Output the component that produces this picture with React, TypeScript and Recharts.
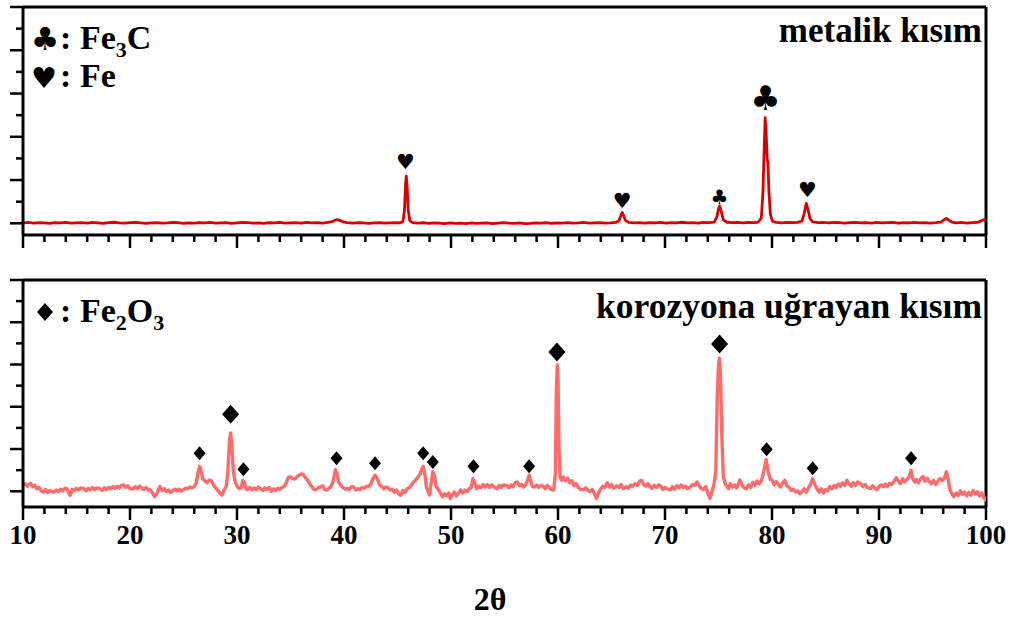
import React from "react";
import { ComposedChart, Line, Scatter, XAxis, YAxis, ReferenceLine } from "recharts";

// 2θ / intensity pairs (a.u., 1000 = one major tick)
const metallicPattern: [number, number][] = [
  [10, 10], [10.5, 20], [11, 5], [11.5, 15], [12, 10], [12.5, 0], [13, 15], [13.5, 10], [14, 20], [14.5, 5],
  [15, 10], [15.5, 15], [16, 5], [16.5, 20], [17, 10], [17.5, 0], [18, 15], [18.5, 25], [19, 10], [19.5, 5],
  [20, 15], [20.5, 20], [21, 10], [21.5, 0], [22, 10], [22.5, 15], [23, 5], [23.5, 10], [24, 20], [24.5, 15],
  [25, 0], [25.5, 10], [26, 5], [26.5, 15], [27, 10], [27.5, 20], [28, 5], [28.5, 10], [29, 15], [29.5, 0],
  [30, 10], [30.5, 20], [31, 15], [31.5, 5], [32, 10], [32.5, 0], [33, 15], [33.5, 10], [34, 20], [34.5, 5],
  [35, 10], [35.5, 15], [36, 5], [36.5, 20], [37, 10], [37.5, 15], [38, 5], [38.5, 20], [38.9, 40], [39.2, 75],
  [39.4, 85], [39.6, 70], [39.9, 35], [40.3, 15], [40.8, 5], [41.3, 15], [41.8, 10], [42.3, 0], [42.8, 10],
  [43.3, 15], [43.8, 5], [44.3, 10], [44.8, 15], [45.2, 10], [45.5, 40], [45.65, 300], [45.75, 900],
  [45.82, 1090], [45.9, 850], [46.0, 300], [46.15, 60], [46.4, 15], [46.9, 5], [47.4, 15], [47.9, 0],
  [48.4, 10], [48.9, 5], [49.4, -5], [49.9, 10], [50.4, 0], [50.9, 5], [51.4, -5], [51.9, 10], [52.4, 0],
  [52.9, 5], [53.4, 10], [53.9, -5], [54.4, 5], [54.9, 15], [55.4, 5], [55.9, 0], [56.4, 10], [56.9, -5],
  [57.4, 0], [57.9, 10], [58.4, 5], [58.9, 15], [59.4, 0], [59.9, 10], [60.4, 5], [60.9, 15], [61.4, 5],
  [61.9, 10], [62.4, 20], [62.9, 5], [63.4, 10], [63.9, 15], [64.4, 5], [64.9, 10], [65.4, 20], [65.7, 60],
  [65.85, 160], [66.0, 250], [66.15, 170], [66.3, 70], [66.6, 20], [67.1, 10], [67.6, 15], [68.1, 5],
  [68.6, 15], [69.1, 10], [69.6, 20], [70.1, 5], [70.6, 15], [71.1, 10], [71.6, 25], [72.1, 10], [72.6, 15],
  [73.1, 5], [73.6, 20], [74.1, 15], [74.6, 30], [74.85, 150], [75.0, 330], [75.1, 400], [75.25, 280],
  [75.45, 80], [75.8, 25], [76.3, 15], [76.8, 20], [77.3, 10], [77.8, 20], [78.3, 15], [78.7, 25],
  [79.0, 120], [79.15, 700], [79.28, 1800], [79.36, 2440], [79.45, 2100], [79.55, 1500], [79.62, 1390],
  [79.72, 700], [79.85, 200], [80.05, 45], [80.4, 20], [80.9, 10], [81.4, 20], [81.9, 15], [82.4, 20],
  [82.8, 50], [83.0, 220], [83.2, 460], [83.35, 330], [83.55, 110], [83.8, 35], [84.3, 15], [84.8, 20],
  [85.3, 10], [85.8, 20], [86.3, 15], [86.8, 5], [87.3, 15], [87.8, 20], [88.3, 10], [88.8, 15], [89.3, 5],
  [89.8, 20], [90.3, 10], [90.8, 15], [91.3, 20], [91.8, 5], [92.3, 15], [92.8, 10], [93.3, 20], [93.8, 10],
  [94.3, 15], [94.8, 5], [95.3, 15], [95.8, 30], [96.1, 85], [96.3, 115], [96.5, 75], [96.8, 30], [97.2, 10],
  [97.7, 20], [98.2, 5], [98.7, 15], [99.2, 20], [99.5, 50], [99.7, 80], [99.85, 75], [100, 55],
];

const corrodedPattern: [number, number][] = [
  [10.0, 140], [10.2, 180], [10.4, 120], [10.7, 190], [10.9, 110], [11.1, 140], [11.3, 60], [11.5, 90],
  [11.7, 10], [11.9, -20], [12.1, 40], [12.3, -30], [12.5, 20], [12.7, -10], [12.9, -20], [13.1, 30],
  [13.3, -10], [13.5, 50], [13.7, 10], [13.9, 70], [14.1, 60], [14.3, -40], [14.4, -95], [14.6, 40],
  [14.8, 20], [15.0, 70], [15.2, 30], [15.4, 80], [15.7, 60], [15.9, 10], [16.1, 70], [16.3, 30], [16.5, 90],
  [16.7, 40], [16.9, 80], [17.2, 60], [17.4, 20], [17.6, 80], [17.8, 40], [18.0, 90], [18.2, 60], [18.4, 110],
  [18.6, 70], [18.8, 120], [19.0, 80], [19.2, 140], [19.4, 150], [19.6, 90], [19.8, 130], [20.0, 60],
  [20.3, 60], [20.5, 110], [20.7, 60], [20.9, 120], [21.1, 80], [21.3, 40], [21.5, 90], [21.7, 30],
  [21.9, 30], [22.1, -40], [22.3, -130], [22.5, -60], [22.7, 60], [22.8, 110], [23.0, 20], [23.2, 60],
  [23.4, -10], [23.6, 30], [23.8, -30], [24.0, 20], [24.2, 50], [24.4, 10], [24.6, 50], [24.8, 0], [25.0, 40],
  [25.2, 70], [25.4, 60], [25.6, 100], [25.8, 80], [26.0, 110], [26.2, 200], [26.35, 420], [26.5, 590],
  [26.65, 480], [26.8, 290], [27.0, 250], [27.2, 200], [27.4, 270], [27.6, 250], [27.8, 150], [28.0, 80],
  [28.2, 20], [28.4, -40], [28.6, -90], [28.8, 30], [29.0, 120], [29.15, 500], [29.3, 1200], [29.4, 1380],
  [29.5, 1150], [29.65, 500], [29.8, 250], [30.0, 120], [30.2, 60], [30.4, 90], [30.55, 260], [30.7, 200],
  [30.85, 50], [31.0, 40], [31.2, 90], [31.4, 30], [31.6, 80], [31.8, 40], [32.0, 100], [32.2, 60],
  [32.4, 20], [32.6, 80], [32.8, 40], [33.0, 90], [33.2, 0], [33.4, 60], [33.6, 20], [33.8, 70], [34.0, 40],
  [34.2, 90], [34.4, 110], [34.6, 200], [34.8, 330], [35.0, 340], [35.2, 300], [35.4, 290], [35.6, 340],
  [35.8, 380], [36.0, 410], [36.2, 400], [36.4, 320], [36.6, 260], [36.8, 180], [37.0, 110], [37.2, 40],
  [37.4, 40], [37.6, 90], [37.8, 100], [38.0, 130], [38.2, 40], [38.4, 30], [38.6, 70], [38.8, 120],
  [39.0, 250], [39.2, 510], [39.35, 420], [39.5, 220], [39.7, 140], [39.9, 90], [40.1, 50], [40.3, 70],
  [40.5, 40], [40.7, 110], [40.9, 100], [41.1, 30], [41.3, 60], [41.5, 40], [41.7, 90], [41.9, 70],
  [42.1, 120], [42.3, 110], [42.5, 170], [42.7, 300], [42.9, 380], [43.1, 300], [43.3, 160], [43.5, 120],
  [43.7, 60], [43.9, 100], [44.1, 90], [44.3, 30], [44.5, 50], [44.7, -20], [44.9, 30], [45.1, -60],
  [45.3, -95], [45.5, 20], [45.7, -30], [45.9, 60], [46.1, 80], [46.3, 150], [46.5, 220], [46.7, 270],
  [46.9, 330], [47.1, 400], [47.25, 520], [47.4, 590], [47.55, 420], [47.7, 100], [47.85, 10], [48.0, -90],
  [48.15, 200], [48.3, 460], [48.45, 380], [48.6, 120], [48.8, 50], [49.0, -40], [49.2, -130], [49.4, -60],
  [49.6, -110], [49.8, -40], [49.95, -175], [50.1, -90], [50.3, -20], [50.5, -110], [50.7, -50], [50.9, 30],
  [51.1, -40], [51.3, 30], [51.5, -10], [51.7, 60], [51.9, 90], [52.05, 300], [52.2, 210], [52.4, 60],
  [52.6, 120], [52.8, 80], [53.0, 160], [53.2, 100], [53.4, 160], [53.6, 90], [53.8, 150], [54.0, 110],
  [54.3, 60], [54.5, 140], [54.7, 90], [54.9, 150], [55.2, 140], [55.4, 80], [55.6, 150], [55.8, 110],
  [56.0, 200], [56.2, 220], [56.4, 130], [56.6, 160], [56.8, 100], [57.0, 170], [57.15, 260], [57.3, 380],
  [57.45, 250], [57.6, 120], [57.8, 100], [58.0, 150], [58.2, 90], [58.4, 140], [58.6, 120], [58.8, 60],
  [59.0, 140], [59.2, 80], [59.4, 40], [59.6, 30], [59.75, 400], [59.85, 2400], [59.93, 2990], [60.0, 2600],
  [60.1, 900], [60.2, 330], [60.35, 260], [60.5, 340], [60.7, 250], [60.9, 310], [61.1, 200], [61.3, 250],
  [61.5, 130], [61.7, 180], [61.9, 90], [62.1, 40], [62.4, 40], [62.6, 80], [62.8, 20], [63.0, -10],
  [63.2, 40], [63.4, -60], [63.6, -170], [63.8, -30], [64.0, 60], [64.2, 120], [64.4, 90], [64.6, 200],
  [64.8, 100], [65.0, 160], [65.2, 70], [65.5, 130], [65.7, 90], [65.9, 160], [66.1, 60], [66.4, 110],
  [66.6, 70], [66.8, 150], [67.0, 120], [67.2, 180], [67.4, 140], [67.6, 230], [67.8, 260], [68.0, 160],
  [68.2, 120], [68.4, 180], [68.6, 110], [68.8, 70], [69.0, 140], [69.2, 90], [69.4, 150], [69.6, 130],
  [69.8, 40], [70.0, 90], [70.2, 60], [70.5, 30], [70.7, 110], [70.9, 50], [71.1, 130], [71.3, 80],
  [71.5, 150], [71.7, 90], [71.9, 120], [72.1, 60], [72.4, 110], [72.6, 160], [72.8, 140], [73.0, 220],
  [73.2, 130], [73.4, 60], [73.6, 40], [73.8, 110], [74.0, -40], [74.2, -170], [74.4, 0], [74.6, 200],
  [74.75, 500], [74.88, 2200], [75.0, 3000], [75.08, 3150], [75.18, 2800], [75.3, 1400], [75.45, 350],
  [75.6, 200], [75.8, 110], [75.95, 60], [76.1, 180], [76.3, 100], [76.5, 150], [76.7, 80], [76.9, 200],
  [77.0, 270], [77.2, 140], [77.4, 80], [77.6, 60], [77.8, 150], [78.0, 90], [78.2, 210], [78.4, 140],
  [78.6, 240], [78.8, 180], [79.0, 250], [79.2, 420], [79.45, 750], [79.65, 450], [79.85, 280], [80.0, 270],
  [80.2, 150], [80.4, 230], [80.6, 160], [80.8, 100], [81.0, 200], [81.2, 260], [81.4, 130], [81.6, 90],
  [81.8, 20], [82.0, 50], [82.2, -20], [82.4, 10], [82.6, -60], [82.8, -10], [83.0, 60], [83.2, -20],
  [83.4, 80], [83.6, 160], [83.8, 300], [84.0, 160], [84.2, 60], [84.4, -20], [84.6, 60], [84.8, -40],
  [85.0, 40], [85.2, 10], [85.4, 110], [85.6, 60], [85.8, 140], [86.0, 90], [86.2, 170], [86.4, 120],
  [86.6, 200], [86.8, 140], [87.0, 260], [87.2, 180], [87.4, 120], [87.6, 200], [87.8, 140], [88.0, 220],
  [88.3, 180], [88.5, 110], [88.7, 160], [88.9, 90], [89.2, 60], [89.4, 130], [89.6, 80], [89.8, 40],
  [90.0, 110], [90.2, 150], [90.4, 110], [90.6, 170], [90.8, 120], [91.0, 190], [91.2, 160], [91.4, 230],
  [91.6, 320], [91.8, 250], [92.0, 180], [92.2, 300], [92.4, 220], [92.6, 280], [92.8, 330], [93.0, 500],
  [93.15, 300], [93.35, 220], [93.5, 280], [93.7, 200], [93.9, 300], [94.1, 350], [94.3, 240], [94.5, 310],
  [94.7, 230], [94.9, 180], [95.1, 260], [95.3, 160], [95.5, 240], [95.7, 300], [95.9, 250], [96.1, 310],
  [96.3, 460], [96.45, 300], [96.6, 60], [96.8, -60], [97.0, -130], [97.2, -40], [97.4, -100], [97.6, 10],
  [97.8, -70], [98.0, -20], [98.2, -110], [98.4, -30], [98.6, -90], [98.8, 20], [99.0, -60], [99.2, -10],
  [99.4, -110], [99.6, -40], [99.8, -140], [100, -250],
];

// phase markers placed above the peaks
const metallicMarkers = [
  { x: 45.75, y: 1410, sym: "♥", size: 21 },
  { x: 66.0, y: 520, sym: "♥", size: 21 },
  { x: 75.1, y: 615, sym: "♣", size: 20 },
  { x: 79.4, y: 2900, sym: "♣", size: 34 },
  { x: 83.3, y: 770, sym: "♥", size: 21 },
];

const corrodedMarkers = [
  { x: 26.5, y: 900, big: false },
  { x: 29.4, y: 1825, big: true },
  { x: 30.6, y: 520, big: false },
  { x: 39.3, y: 780, big: false },
  { x: 42.9, y: 665, big: false },
  { x: 47.4, y: 900, big: false },
  { x: 48.3, y: 690, big: false },
  { x: 52.1, y: 590, big: false },
  { x: 57.3, y: 590, big: false },
  { x: 59.9, y: 3295, big: true },
  { x: 75.1, y: 3485, big: true },
  { x: 79.5, y: 995, big: false },
  { x: 83.8, y: 545, big: false },
  { x: 93.0, y: 780, big: false },
];

const xTicks = [10, 12, 14, 16, 18, 20, 22, 24, 26, 28, 30, 32, 34, 36, 38, 40, 42, 44, 46, 48, 50, 52, 54, 56, 58, 60, 62, 64, 66, 68, 70, 72, 74, 76, 78, 80, 82, 84, 86, 88, 90, 92, 94, 96, 98, 100];
const yTicks = [0, 500, 1000, 1500, 2000, 2500, 3000, 3500, 4000, 4500, 5000];

const toPoints = (rows: [number, number][]) => rows.map(([x, y]) => ({ x, y }));

const SERIF = "'Liberation Serif', 'Times New Roman', serif";
const SYMBOL = "'DejaVu Sans', sans-serif";
const LEFT = 23;

function XTick(props: any) {
  const { x, payload, axisY, labels } = props;
  const v = payload.value;
  const major = v % 10 === 0;
  return (
    <g>
      <line x1={x} x2={x} y1={axisY} y2={axisY + (major ? 13 : 7)} stroke="#000" strokeWidth={2.5} />
      {labels && major && (
        <text x={x} y={axisY + 37} textAnchor="middle" fontFamily={SERIF} fontWeight="bold" fontSize={27} fill="#000">
          {v}
        </text>
      )}
    </g>
  );
}

function YTick(props: any) {
  const { y, payload } = props;
  const major = payload.value % 1000 === 0;
  return <line x1={LEFT - (major ? 13 : 7)} x2={LEFT} y1={y} y2={y} stroke="#000" strokeWidth={2.5} />;
}

function SuitMark(props: any) {
  const { cx, cy, payload } = props;
  return (
    <text x={cx} y={cy} textAnchor="middle" dominantBaseline="central" fontFamily={SYMBOL} fontSize={payload.size} fill="#000">
      {payload.sym}
    </text>
  );
}

function DiamondMark(props: any) {
  const { cx, cy, payload } = props;
  const w = payload.big ? 8.5 : 6;
  const h = payload.big ? 9.5 : 7;
  return <polygon points={`${cx},${cy - h} ${cx + w},${cy} ${cx},${cy + h} ${cx - w},${cy}`} fill="#000" />;
}

function Panel(props: {
  top: number;
  height: number;
  plotTop: number;
  plotBottom: number;
  domain: [number, number];
  data: { x: number; y: number }[];
  color: string;
  width: number;
  labels: boolean;
  markers: any[];
  shape: any;
}) {
  const { top, height, plotTop, plotBottom, domain, data, color, width, labels, markers, shape } = props;
  // the axes take 1px each, so margins stop 1px short of the plot edge
  const margin = { top: plotTop, right: 26, bottom: height - plotBottom - 1, left: LEFT - 1 };
  return (
    <div style={{ position: "absolute", left: 0, top }}>
      <ComposedChart width={1012} height={height} margin={margin}>
        <XAxis
          dataKey="x"
          type="number"
          domain={[10, 100]}
          ticks={xTicks}
          interval={0}
          height={1}
          tickLine={false}
          axisLine={{ stroke: "#000", strokeWidth: 3 }}
          tick={(p: any) => <XTick {...p} axisY={plotBottom} labels={labels} />}
          allowDataOverflow
        />
        <YAxis
          dataKey="y"
          type="number"
          domain={domain}
          ticks={yTicks}
          interval={0}
          width={1}
          tickLine={false}
          axisLine={{ stroke: "#000", strokeWidth: 3 }}
          tick={(p: any) => <YTick {...p} />}
          allowDataOverflow
        />
        <ReferenceLine y={5000} stroke="#000" strokeWidth={3} />
        <ReferenceLine x={100} stroke="#000" strokeWidth={3} />
        <Line
          data={data}
          dataKey="y"
          type="linear"
          dot={false}
          stroke={color}
          strokeWidth={width}
          strokeLinejoin="round"
          isAnimationActive={false}
        />
        <Scatter data={markers} dataKey="y" shape={shape} isAnimationActive={false} />
      </ComposedChart>
    </div>
  );
}

export default function App() {
  return (
    <div style={{ position: "absolute", left: 0, top: 0, width: 1012, height: 617, background: "#fff" }}>
      <Panel
        top={0}
        height={250}
        plotTop={7}
        plotBottom={235}
        domain={[-270, 5000]}
        data={toPoints(metallicPattern)}
        color="#d90000"
        width={2.8}
        labels={false}
        markers={metallicMarkers}
        shape={SuitMark}
      />
      <Panel
        top={260}
        height={300}
        plotTop={20}
        plotBottom={247}
        domain={[-372, 5000]}
        data={toPoints(corrodedPattern)}
        color="#ff6b6b"
        width={3.4}
        labels={true}
        markers={corrodedMarkers}
        shape={DiamondMark}
      />
      <svg width={1012} height={617} style={{ position: "absolute", left: 0, top: 0, pointerEvents: "none" }}>
        <g fontFamily={SERIF} fontWeight="bold" fill="#000">
          <text x={45} y={39} textAnchor="middle" dominantBaseline="central" fontFamily={SYMBOL} fontSize={32}>♣</text>
          <text x={60} y={49} fontSize={34}>:</text>
          <text x={80} y={49} fontSize={34}>
            Fe<tspan dy={8} fontSize={22}>3</tspan><tspan dy={-8}>C</tspan>
          </text>
          <text x={44} y={78} textAnchor="middle" dominantBaseline="central" fontFamily={SYMBOL} fontSize={29}>♥</text>
          <text x={60} y={87} fontSize={34}>:</text>
          <text x={80} y={87} fontSize={34}>Fe</text>
          <text x={982} y={42} textAnchor="end" fontSize={35}>metalik kısım</text>

          <polygon points="45,303 53,312 45,321 37,312" fill="#000" />
          <text x={60} y={322} fontSize={34}>:</text>
          <text x={80} y={322} fontSize={34}>
            Fe<tspan dy={8} fontSize={22}>2</tspan><tspan dy={-8}>O</tspan><tspan dy={8} fontSize={22}>3</tspan>
          </text>
          <text x={982} y={318} textAnchor="end" fontSize={35.5}>korozyona uğrayan kısım</text>

          <text x={490} y={610} textAnchor="middle" fontSize={32}>2θ</text>
        </g>
      </svg>
    </div>
  );
}
